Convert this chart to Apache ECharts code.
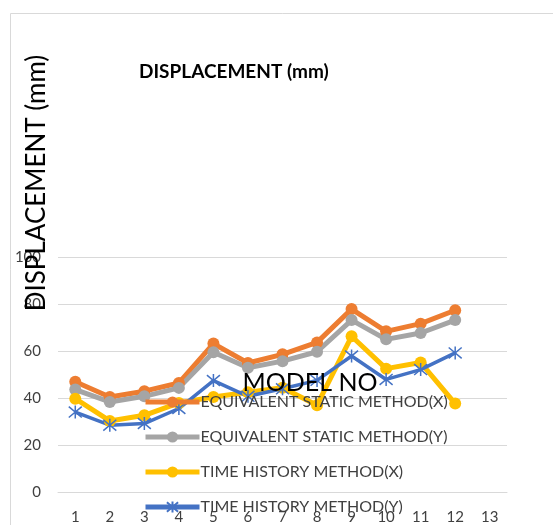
<!DOCTYPE html>
<html>
<head>
<meta charset="utf-8">
<script src="https://cdn.jsdelivr.net/npm/echarts@6/dist/echarts.min.js"></script>
<style>html,body{margin:0;padding:0;background:#fff}#c{width:553px;height:525px}</style>
</head>
<body>
<div id="c"></div>
<script>
const categories = ['1','2','3','4','5','6','7','8','9','10','11','12','13'];
const seriesNames = ['EQUIVALENT STATIC METHOD(X)','EQUIVALENT STATIC METHOD(Y)','TIME HISTORY METHOD(X)','TIME HISTORY METHOD(Y)'];
const eqStaticX = [47, 40.5, 43, 46.5, 63.3, 55, 58.7, 63.8, 78, 68.5, 71.8, 77.5];
const eqStaticY = [43.7, 38.4, 40.8, 44.4, 59.6, 53, 55.8, 59.8, 73.3, 65.1, 67.8, 73.3];
const timeHistX = [39.8, 30.3, 32.7, 38, 40.5, 42.5, 44.5, 37, 66.4, 52.6, 55.2, 37.7];
const timeHistY = [34.1, 28.5, 29.2, 35.6, 47.5, 40.8, 44, 47.6, 58, 48, 52.2, 59.3];
const chartTitle = 'DISPLACEMENT (mm)';
const yAxisTitle = 'DISPLACEMENT (mm)';
const xAxisTitle = 'MODEL NO';

const FONT = 'Lato';
const colors = ['#ED7D31', '#A5A5A5', '#FFC000', '#4472C4'];
const star = 'path://M0,0L10,10M10,0L0,10M5,-1L5,11';

const chart = echarts.init(document.getElementById('c'), null, {renderer: 'canvas'});
function lineSeries(name, data, color, isStar) {
  return {
    name: name, type: 'line', data: data,
    symbol: isStar ? star : 'circle',
    symbolSize: isStar ? 13 : 12,
    showSymbol: true,
    lineStyle: {color: color, width: isStar ? 3.5 : 5},
    itemStyle: isStar ? {color: color, borderColor: color, borderWidth: 1.5} : {color: color, borderWidth: 0},
    emphasis: {disabled: true},
    animation: false
  };
}
chart.setOption({
  animation: false,
  textStyle: {fontFamily: FONT},
  title: {
    text: chartTitle, left: 139, top: 62, padding: 0,
    textStyle: {fontFamily: FONT, fontSize: 19, fontWeight: 'bold', color: '#000'}
  },
  grid: {left: 58, right: 46, top: 257.5, bottom: 33, containLabel: false},
  xAxis: {
    type: 'category', data: categories, boundaryGap: true,
    axisTick: {show: false},
    axisLine: {show: true, lineStyle: {color: '#d9d9d9', width: 1}},
    axisLabel: {color: '#404040', fontSize: 15, fontFamily: FONT, margin: 18, interval: 0}
  },
  yAxis: {
    type: 'value', min: 0, max: 100, interval: 20,
    axisLine: {show: false}, axisTick: {show: false},
    splitLine: {lineStyle: {color: '#d9d9d9', width: 1}},
    axisLabel: {color: '#404040', fontSize: 15, fontFamily: FONT, margin: 17}
  },
  legend: {
    orient: 'vertical', left: 143, top: 394, height: 200, padding: 0,
    itemWidth: 54, itemHeight: 14, itemGap: 19,
    lineStyle: {width: 5},
    textStyle: {fontFamily: FONT, fontSize: 16, color: '#404040', lineHeight: 14, padding: [0, 0, 0, -4]},
    data: seriesNames
  },
  graphic: [
    {type: 'rect', left: 8, top: 11, z: -10, shape: {width: 600, height: 600}, style: {fill: 'none', stroke: '#d9d9d9', lineWidth: 1}},
    {type: 'text', x: 37, y: 183, rotation: Math.PI / 2, z: 100,
      style: {text: yAxisTitle, fontFamily: FONT, fontSize: 26, fill: '#000', align: 'center', verticalAlign: 'middle'}},
    {type: 'text', x: 310, y: 383, z: 100,
      style: {text: xAxisTitle, fontFamily: FONT, fontSize: 25, fill: '#000', align: 'center', verticalAlign: 'middle'}}
  ],
  series: [
    lineSeries(seriesNames[0], eqStaticX, colors[0], false),
    lineSeries(seriesNames[1], eqStaticY, colors[1], false),
    lineSeries(seriesNames[2], timeHistX, colors[2], false),
    lineSeries(seriesNames[3], timeHistY, colors[3], true)
  ]
});
</script>
</body>
</html>
